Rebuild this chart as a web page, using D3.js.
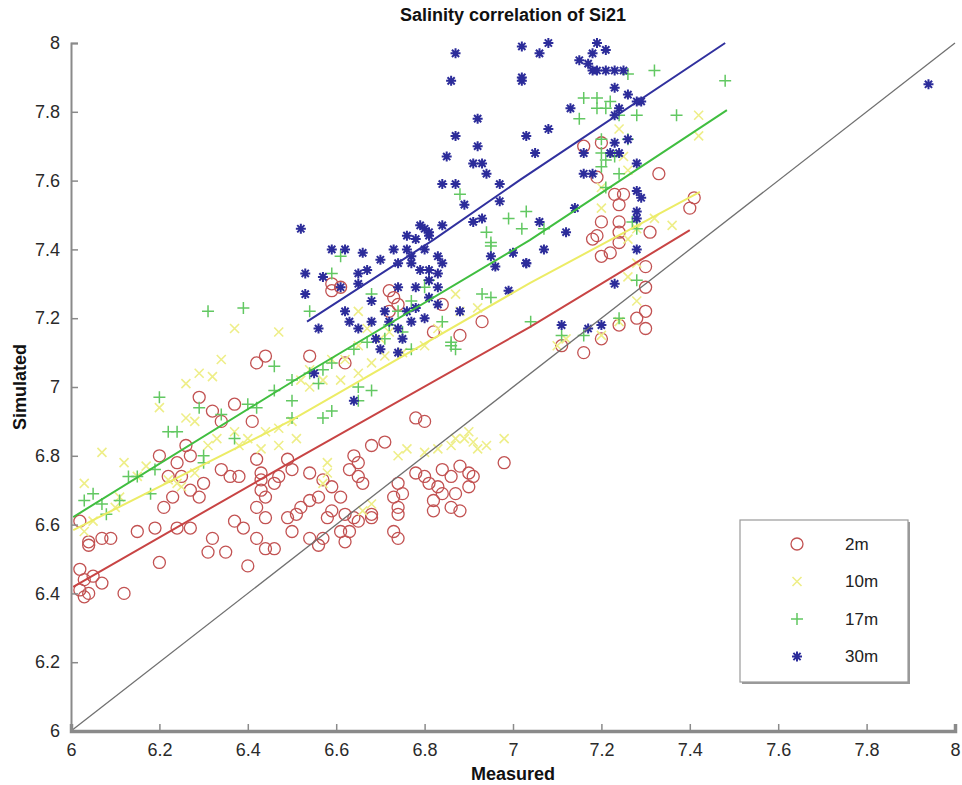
<!DOCTYPE html>
<html>
<head>
<meta charset="utf-8">
<script src="https://cdn.jsdelivr.net/npm/d3@7"></script>
<style>
  html, body { margin: 0; padding: 0; background: #fff; }
  svg { display: block; font-family: "Liberation Sans", Arial, sans-serif; }
</style>
</head>
<body>
<svg id="chart" width="962" height="785"></svg>
<script>
// Axis ticks
const xTicks = [6, 6.2, 6.4, 6.6, 6.8, 7, 7.2, 7.4, 7.6, 7.8, 8];
const yTicks = [6, 6.2, 6.4, 6.6, 6.8, 7, 7.2, 7.4, 7.6, 7.8, 8];
const seriesNames = ["2m", "10m", "17m", "30m"];

// Measured vs simulated salinity, 2 m depth
const pts2m = [
  [6.03,6.44],[6.05,6.45],[6.07,6.43],[6.04,6.40],[6.02,6.41],[6.03,6.39],[6.12,6.40],[6.02,6.47],
  [6.02,6.61],[6.04,6.55],[6.04,6.54],[6.07,6.56],[6.09,6.56],[6.15,6.58],[6.19,6.59],[6.20,6.49],
  [6.24,6.59],[6.27,6.59],[6.44,7.09],[6.42,7.07],[6.29,6.97],[6.32,6.93],[6.34,6.90],[6.37,6.95],
  [6.41,6.90],[6.20,6.80],[6.26,6.83],[6.27,6.80],[6.24,6.78],[6.22,6.74],[6.25,6.74],[6.27,6.70],
  [6.23,6.68],[6.21,6.65],[6.29,6.68],[6.30,6.72],[6.34,6.76],[6.36,6.74],[6.38,6.74],[6.42,6.79],
  [6.43,6.75],[6.43,6.73],[6.43,6.70],[6.44,6.68],[6.42,6.65],[6.44,6.62],[6.46,6.72],[6.47,6.74],
  [6.49,6.79],[6.50,6.76],[6.37,6.61],[6.39,6.59],[6.49,6.62],[6.50,6.58],[6.32,6.56],[6.31,6.52],
  [6.35,6.52],[6.42,6.56],[6.44,6.53],[6.46,6.53],[6.40,6.48],
  [6.59,7.30],[6.61,7.29],[6.59,7.28],[6.72,7.28],[6.73,7.26],[6.74,7.24],[6.72,7.22],[6.84,7.24],
  [6.93,7.19],[6.88,7.15],[6.82,7.16],[6.54,7.09],[6.62,7.07],[6.78,6.91],[6.80,6.90],[6.68,6.83],
  [6.71,6.84],[6.98,6.78],[6.54,6.75],[6.64,6.80],[6.65,6.78],[6.63,6.76],[6.65,6.74],[6.57,6.73],
  [6.59,6.71],[6.66,6.72],[6.61,6.68],[6.56,6.68],[6.54,6.67],[6.52,6.65],[6.51,6.63],[6.59,6.64],
  [6.58,6.62],[6.62,6.63],[6.64,6.62],[6.65,6.61],[6.68,6.63],[6.74,6.72],[6.75,6.69],[6.73,6.68],
  [6.74,6.65],[6.74,6.63],[6.78,6.75],[6.80,6.74],[6.81,6.72],[6.83,6.71],[6.84,6.76],[6.86,6.74],
  [6.84,6.69],[6.82,6.67],[6.82,6.64],[6.88,6.77],[6.90,6.75],[6.91,6.74],[6.90,6.71],[6.87,6.69],
  [6.86,6.65],[6.88,6.64],[6.73,6.58],[6.74,6.56],[6.61,6.58],[6.63,6.58],[6.62,6.55],[6.57,6.56],
  [6.56,6.54],[6.54,6.56],[6.68,6.62],
  [7.16,7.70],[7.20,7.71],[7.19,7.61],[7.33,7.62],[7.41,7.55],[7.40,7.52],[7.20,7.48],[7.24,7.48],
  [7.19,7.44],[7.18,7.43],[7.24,7.45],[7.31,7.45],[7.24,7.42],[7.23,7.56],[7.25,7.56],[7.24,7.53],
  [7.20,7.38],[7.22,7.39],[7.30,7.35],[7.30,7.29],[7.30,7.22],[7.28,7.20],[7.30,7.17],[7.24,7.18],
  [7.20,7.14],[7.16,7.10],[7.11,7.12]
];

// 10 m depth
const pts10m = [
  [6.37,7.17],[6.47,7.16],[6.34,7.08],[6.29,7.04],[6.32,7.03],[6.20,6.94],[6.28,6.90],[6.26,6.91],
  [6.07,6.81],[6.12,6.78],[6.03,6.72],[6.03,6.58],[6.05,6.61],[6.10,6.65],[6.11,6.68],[6.15,6.74],
  [6.17,6.77],[6.24,6.72],[6.25,6.71],[6.31,6.83],[6.33,6.85],[6.37,6.87],[6.40,6.85],[6.44,6.87],
  [6.47,6.88],[6.50,6.90],[6.47,6.83],[6.43,6.82],[6.38,6.83],[6.22,6.73],[6.28,6.75],[6.26,7.01],
  [6.65,7.22],[6.67,7.17],[6.70,7.14],[6.72,7.16],[6.65,7.12],[6.62,7.08],[6.59,7.08],[6.54,7.05],
  [6.52,7.02],[6.54,7.00],[6.57,7.02],[6.61,7.02],[6.65,7.04],[6.68,7.07],[6.71,7.09],[6.75,7.10],
  [6.80,7.12],[6.83,7.17],[6.88,7.22],[6.92,7.23],[6.87,7.27],[6.89,6.85],[6.91,6.84],[6.86,6.83],
  [6.83,6.82],[6.80,6.81],[6.76,6.82],[6.74,6.80],[6.92,6.82],[6.98,6.85],[6.58,6.78],[6.58,6.75],
  [6.57,6.72],[6.68,6.66],[6.66,6.64],[6.51,6.85],[6.90,6.87],[6.94,6.83],[6.87,6.85],
  [7.20,7.52],[7.26,7.63],[7.25,7.67],[7.24,7.75],[7.20,7.58],[7.42,7.79],[7.42,7.73],[7.36,7.47],
  [7.32,7.49],[7.28,7.46],[7.26,7.43],[7.28,7.36],[7.28,7.25],[7.26,7.32],[7.24,7.19],[7.12,7.14],
  [7.10,7.12],[7.20,7.15]
];

// 17 m depth
const pts17m = [
  [6.39,7.23],[6.31,7.22],[6.20,6.97],[6.29,6.94],[6.22,6.87],[6.24,6.87],[6.46,7.06],[6.46,6.99],
  [6.40,6.95],[6.50,6.91],[6.30,6.80],[6.30,6.78],[6.19,6.76],[6.13,6.74],[6.18,6.69],[6.05,6.69],
  [6.03,6.67],[6.07,6.66],[6.08,6.63],[6.11,6.67],[6.15,6.74],[6.37,6.85],[6.42,6.94],[6.34,6.92],
  [6.61,7.38],[6.59,7.33],[6.54,7.22],[6.68,7.27],[6.74,7.22],[6.77,7.25],[6.80,7.29],[6.81,7.31],
  [6.84,7.19],[6.86,7.13],[6.87,7.11],[6.86,7.12],[6.95,7.42],[6.95,7.26],[6.93,7.27],[6.72,7.18],
  [6.71,7.14],[6.67,7.13],[6.64,7.11],[6.59,7.07],[6.57,7.05],[6.54,7.04],[6.65,7.00],[6.68,6.99],
  [6.65,6.96],[6.57,6.91],[6.59,6.93],[6.56,7.01],[6.50,6.96],[6.50,7.02],[6.77,7.11],[6.75,7.16],
  [6.88,7.56],[7.03,7.51],[6.99,7.49],[7.02,7.46],[6.94,7.45],[6.95,7.41],
  [7.32,7.92],[7.48,7.89],[7.37,7.79],[7.16,7.84],[7.19,7.84],[7.22,7.83],[7.19,7.81],[7.21,7.81],
  [7.15,7.78],[7.28,7.79],[7.24,7.79],[7.20,7.68],[7.21,7.66],[7.23,7.67],[7.20,7.64],[7.21,7.58],
  [7.24,7.62],[7.26,7.72],[7.20,7.72],[7.07,7.46],[7.28,7.46],[7.27,7.48],[7.28,7.31],[7.24,7.20],
  [7.11,7.15],[7.16,7.15],[7.04,7.19],[7.26,7.91]
];

// 30 m depth
const pts30m = [
  [6.87,7.97],[6.86,7.89],[7.02,7.99],[7.02,7.90],[6.92,7.78],[6.87,7.73],[6.92,7.70],[7.03,7.73],
  [6.85,7.67],[6.91,7.65],[6.93,7.65],[6.94,7.62],[6.84,7.59],[6.87,7.59],[6.97,7.59],[6.97,7.54],
  [6.89,7.53],[6.91,7.48],[6.93,7.49],[6.52,7.46],[6.80,7.46],[6.79,7.47],[6.81,7.45],[6.84,7.47],
  [6.76,7.44],
  [7.19,8.00],[7.21,7.98],[7.18,7.97],[7.15,7.95],[7.17,7.94],[7.18,7.92],[7.19,7.92],[7.21,7.92],
  [7.23,7.92],[7.25,7.92],[7.23,7.87],[7.26,7.85],[7.28,7.83],[7.29,7.83],[7.24,7.81],[7.23,7.79],
  [7.13,7.81],[7.08,7.75],[7.05,7.68],[7.26,7.72],[7.23,7.71],[7.16,7.68],[7.22,7.68],[7.24,7.68],
  [7.28,7.65],[7.16,7.62],[7.18,7.62],[7.14,7.52],[7.12,7.45],[7.28,7.57],[7.29,7.55],[7.28,7.51],
  [7.28,7.49],[7.06,7.48],[7.02,7.89],[7.08,8.00],[7.06,7.97],
  [7.07,7.40],[7.03,7.36],[7.28,7.40],[7.23,7.30],[7.11,7.18],[7.17,7.17],[7.20,7.18],
  [6.78,7.43],[6.81,7.44],[6.76,7.40],[6.77,7.38],[6.80,7.40],[6.83,7.38],[6.84,7.36],[6.81,7.34],
  [6.79,7.34],[6.77,7.36],[6.74,7.36],[6.73,7.40],[6.70,7.37],[6.66,7.39],[6.62,7.40],[6.59,7.40],
  [6.53,7.33],[6.57,7.32],[6.61,7.29],[6.65,7.33],[6.67,7.34],[6.65,7.30],[6.53,7.27],[6.68,7.25],
  [6.71,7.22],[6.72,7.19],[6.74,7.17],[6.68,7.19],[6.75,7.14],[6.69,7.14],[6.70,7.11],[6.74,7.10],
  [6.63,7.19],[6.62,7.22],[6.65,7.17],[6.56,7.17],[6.74,7.29],[6.78,7.29],[6.81,7.26],[6.83,7.24],
  [6.76,7.22],[6.78,7.23],[6.80,7.20],[6.77,7.19],[6.81,7.31],[6.83,7.29],[6.83,7.33],[6.88,7.22],
  [6.96,7.35],[6.99,7.28],[6.95,7.38],[7.00,7.39],[7.03,7.36],[6.55,7.04],[6.64,6.96],
  [7.94,7.88]
];

// Fitted trend lines for each depth
const fit2m  = [[6.005,6.419],[6.518,6.797],[7.038,7.174],[7.40,7.456]];
const fit10m = [[6.005,6.584],[6.495,6.901],[7.038,7.302],[7.423,7.567]];
const fit17m = [[6.005,6.622],[6.518,7.029],[7.038,7.427],[7.484,7.805]];
const fit30m = [[6.534,7.19],[6.819,7.427],[7.016,7.602],[7.48,8.0]];
// One-to-one reference line
const identity = [[6, 6], [8, 8]];

const svg = d3.select("#chart");
const margin = { left: 71, right: 7, top: 43, bottom: 54 };
const W = 962, H = 785;

const x = d3.scaleLinear().domain([6, 8]).range([margin.left, W - margin.right]);
const y = d3.scaleLinear().domain([6, 8]).range([H - margin.bottom, margin.top]);

const colors = {
  "2m":  { mark: "#c25252", line: "#c84444" },
  "10m": { mark: "#eeee88", line: "#ecec66" },
  "17m": { mark: "#62c862", line: "#40be40" },
  "30m": { mark: "#2c2c9a", line: "#30309e" }
};

// Marker shapes in MATLAB style: circle, x, plus, asterisk
function drawMarker(g, kind, cx, cy) {
  if (kind === "2m") {
    g.append("circle").attr("cx", cx).attr("cy", cy).attr("r", 6)
      .attr("fill", "none").attr("stroke", colors["2m"].mark).attr("stroke-width", 1.3);
  } else if (kind === "10m") {
    const s = 4.5;
    g.append("path")
      .attr("d", `M${cx - s},${cy - s}L${cx + s},${cy + s}M${cx - s},${cy + s}L${cx + s},${cy - s}`)
      .attr("stroke", colors["10m"].mark).attr("stroke-width", 1.6).attr("fill", "none");
  } else if (kind === "17m") {
    const s = 6;
    g.append("path")
      .attr("d", `M${cx - s},${cy}L${cx + s},${cy}M${cx},${cy - s}L${cx},${cy + s}`)
      .attr("stroke", colors["17m"].mark).attr("stroke-width", 1.5).attr("fill", "none");
  } else {
    const s = 5, d = 3.6;
    g.append("path")
      .attr("d", `M${cx - s},${cy}L${cx + s},${cy}M${cx},${cy - s}L${cx},${cy + s}` +
                 `M${cx - d},${cy - d}L${cx + d},${cy + d}M${cx - d},${cy + d}L${cx + d},${cy - d}`)
      .attr("stroke", colors["30m"].mark).attr("stroke-width", 2).attr("fill", "none");
  }
}

const plot = svg.append("g");
const seriesData = { "2m": pts2m, "10m": pts10m, "17m": pts17m, "30m": pts30m };
seriesNames.forEach(name => {
  const g = plot.append("g").attr("class", "s-" + name);
  seriesData[name].forEach(p => drawMarker(g, name, x(p[0]), y(p[1])));
});

const line = d3.line().x(d => x(d[0])).y(d => y(d[1]));
plot.append("path").datum(identity).attr("d", line)
  .attr("fill", "none").attr("stroke", "#707070").attr("stroke-width", 1.3);
const fits = { "2m": fit2m, "10m": fit10m, "17m": fit17m, "30m": fit30m };
seriesNames.forEach(name => {
  plot.append("path").datum(fits[name]).attr("d", line)
    .attr("fill", "none").attr("stroke", colors[name].line).attr("stroke-width", 2);
});

// Axes: ticks pointing inward
const xAxis = d3.axisBottom(x).tickValues(xTicks).tickSize(-7).tickPadding(12)
  .tickFormat(d3.format("~g"));
const yAxis = d3.axisLeft(y).tickValues(yTicks).tickSize(-7).tickPadding(11)
  .tickFormat(d3.format("~g"));

const gx = svg.append("g").attr("transform", `translate(0,${H - margin.bottom})`).call(xAxis);
const gy = svg.append("g").attr("transform", `translate(${margin.left},0)`).call(yAxis);
[gx, gy].forEach(g => {
  g.select(".domain").attr("stroke", "#8a8a8a").attr("stroke-width", 2);
  g.selectAll(".tick line").attr("stroke", "#8a8a8a").attr("stroke-width", 1.5);
  g.selectAll(".tick text").attr("fill", "#2a2a2a").attr("font-size", 18)
    .attr("font-family", "'Liberation Sans', Arial, sans-serif");
});
gx.select(".domain").attr("stroke-width", 3.5);

// Titles
svg.append("text").attr("x", x(7)).attr("y", 21).attr("text-anchor", "middle")
  .attr("font-size", 18).attr("font-weight", "bold").attr("fill", "#111")
  .text("Salinity correlation of Si21");
svg.append("text").attr("x", x(7)).attr("y", 780).attr("text-anchor", "middle")
  .attr("font-size", 18).attr("font-weight", "bold").attr("fill", "#111")
  .text("Measured");
svg.append("text").attr("transform", `translate(26,${y(7)}) rotate(-90)`)
  .attr("text-anchor", "middle").attr("font-size", 18).attr("font-weight", "bold").attr("fill", "#111")
  .text("Simulated");

// Legend
const lg = svg.append("g").attr("transform", "translate(740,520)");
lg.append("rect").attr("x", 2).attr("y", 2).attr("width", 168).attr("height", 162)
  .attr("fill", "#9a9a9a");
lg.append("rect").attr("width", 168).attr("height", 162)
  .attr("fill", "#fff").attr("stroke", "#9a9a9a").attr("stroke-width", 1.2);
seriesNames.forEach((name, i) => {
  const cy = 24 + i * 37.5;
  drawMarker(lg, name, 57, cy);
  lg.append("text").attr("x", 105).attr("y", cy).attr("dy", "0.35em")
    .attr("font-size", 17).attr("fill", "#222").text(name);
});
</script>
</body>
</html>
